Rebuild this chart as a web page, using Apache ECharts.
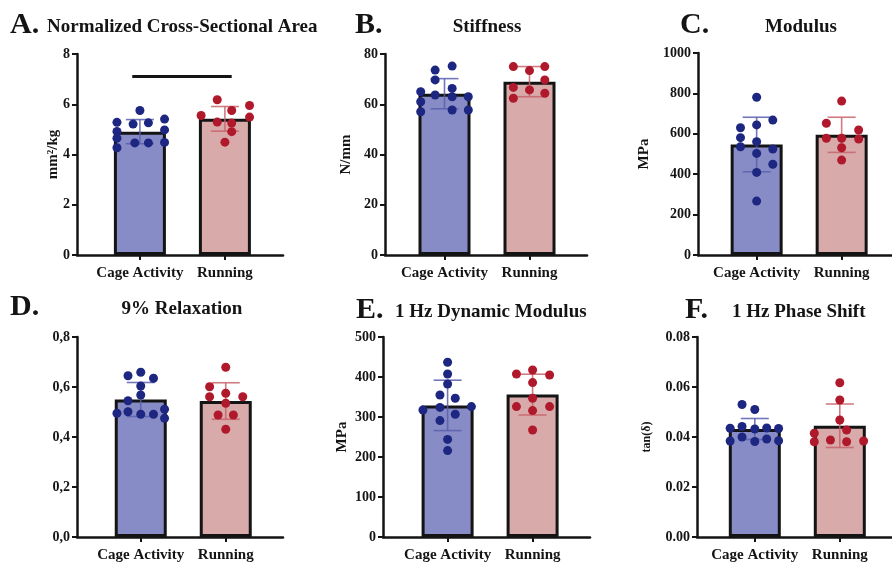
<!DOCTYPE html>
<html>
<head>
<meta charset="utf-8">
<script src="https://cdn.jsdelivr.net/npm/echarts@6/dist/echarts.min.js"></script>
<style>html,body{margin:0;padding:0;background:#fff}#c{width:892px;height:565px}</style>
</head>
<body>
<div id="c"></div>
<script>
// ---------- DATA ----------
const categories = ['Cage Activity', 'Running'];
const panelLetters = ['A.', 'B.', 'C.', 'D.', 'E.', 'F.'];
const panelTitles = ['Normalized Cross-Sectional Area', 'Stiffness', 'Modulus', '9% Relaxation', '1 Hz Dynamic Modulus', '1 Hz Phase Shift'];
const yNames = ['mm²/kg', 'N/mm', 'MPa', '', 'MPa', 'tan(δ)'];
const yMax = [8, 80, 1000, 0.8, 500, 0.08];
const yStep = [2, 20, 200, 0.2, 100, 0.02];
const yTickLabelsA = ['0', '2', '4', '6', '8'];
const yTickLabelsB = ['0', '20', '40', '60', '80'];
const yTickLabelsC = ['0', '200', '400', '600', '800', '1000'];
const yTickLabelsD = ['0,0', '0,2', '0,4', '0,6', '0,8'];
const yTickLabelsE = ['0', '100', '200', '300', '400', '500'];
const yTickLabelsF = ['0.00', '0.02', '0.04', '0.06', '0.08'];

const cageMean = [4.91, 64.2, 547, 0.55, 329, 0.0432];
const cageSD   = [0.48, 6.0, 135, 0.068, 63, 0.0042];
const runMean  = [5.42, 69.0, 595, 0.544, 356, 0.0445];
const runSD    = [0.49, 6.0, 87, 0.073, 51, 0.0087];

const cageA = [5.75, 5.28, 5.21, 5.26, 5.41, 4.92, 4.98, 4.65, 4.46, 4.46, 4.48, 4.27];
const runA  = [6.18, 5.95, 5.55, 5.75, 5.49, 5.29, 5.25, 4.91, 4.49];
const cageB = [73.6, 75.2, 69.7, 66.3, 65.0, 63.7, 63.0, 63.0, 61.0, 57.0, 57.7, 57.7];
const runB  = [75.0, 73.4, 75.0, 69.7, 66.7, 65.7, 64.4, 62.4];
const cageC = [781, 668, 630, 644, 581, 561, 536, 503, 525, 449, 409, 267];
const runC  = [762, 652, 619, 578, 578, 574, 531, 470];
const cageD = [0.645, 0.659, 0.635, 0.604, 0.568, 0.545, 0.495, 0.501, 0.491, 0.491, 0.511, 0.475];
const runD  = [0.679, 0.601, 0.561, 0.575, 0.561, 0.535, 0.488, 0.488, 0.431];
const cageE = [437, 407.5, 382.5, 355, 347, 317.5, 324, 326, 307, 291, 244, 216];
const runE  = [407.5, 417.5, 405, 386, 347, 326, 316, 326, 267.5];
const cageF = [0.053, 0.051, 0.0435, 0.0442, 0.0432, 0.0436, 0.0434, 0.0384, 0.0400, 0.0382, 0.0392, 0.0385];
const runF  = [0.0617, 0.0548, 0.0468, 0.0428, 0.0415, 0.0381, 0.0388, 0.0381, 0.0384];

// horizontal spread of the dots within each bar (fraction of group spacing)
const cageAJit = [0, -0.27, -0.08, 0.10, 0.29, -0.27, 0.29, -0.27, -0.06, 0.10, 0.29, -0.27];
const runAJit  = [-0.09, 0.29, -0.28, 0.08, 0.29, -0.09, 0.08, 0.08, 0];
const cageBJit = [-0.11, 0.09, -0.11, 0.09, -0.28, -0.11, 0.09, 0.28, -0.28, -0.28, 0.09, 0.28];
const runBJit  = [-0.19, 0, 0.18, 0.18, -0.19, 0, 0.18, -0.19];
const cageCJit = [0, 0.19, -0.19, 0, -0.19, 0, -0.19, 0, 0.19, 0.19, 0, 0];
const runCJit  = [0, -0.18, 0.2, -0.18, 0, 0.2, 0, 0];
const cageDJit = [-0.15, 0, 0.15, 0, 0, -0.15, -0.28, -0.15, 0, 0.15, 0.28, 0.28];
const runDJit  = [0, -0.19, -0.19, 0, 0.2, 0, -0.09, 0.09, 0];
const cageEJit = [0, 0, 0, -0.09, 0.09, -0.29, -0.09, 0.28, 0.09, -0.09, 0, 0];
const runEJit  = [-0.19, 0, 0.2, 0, 0, -0.19, 0, 0.2, 0];
const cageFJit = [-0.15, 0, -0.29, -0.15, 0, 0.14, 0.28, -0.29, -0.15, 0, 0.14, 0.28];
const runFJit  = [0, 0, 0, 0.08, -0.3, -0.3, -0.11, 0.08, 0.28];

// significance line in panel A (value level and group span)
const sigLevelA = 7.1;
const sigSpanA = [-0.09, 1.08];

// ---------- LAYOUT / STYLE ----------
const tickLabels = [yTickLabelsA, yTickLabelsB, yTickLabelsC, yTickLabelsD, yTickLabelsE, yTickLabelsF];
const cageDots = [cageA, cageB, cageC, cageD, cageE, cageF];
const runDots = [runA, runB, runC, runD, runE, runF];
const cageJit = [cageAJit, cageBJit, cageCJit, cageDJit, cageEJit, cageFJit];
const runJit = [runAJit, runBJit, runCJit, runDJit, runEJit, runFJit];

const grids = [
  {left: 77, top: 54, width: 206, height: 201, xmin: -0.74},
  {left: 385, top: 54, width: 202, height: 201, xmin: -0.70},
  {left: 698, top: 53, width: 194, height: 202, xmin: -0.69},
  {left: 77, top: 337, width: 206, height: 200, xmin: -0.75},
  {left: 383, top: 337, width: 207, height: 200, xmin: -0.76},
  {left: 697, top: 337, width: 195, height: 200, xmin: -0.68}
];
const pxPerGroup = 85;
const letterPos = [[10, 25], [355, 25], [680, 25], [10, 307], [356, 310], [685, 310]];
const titlePos = [[47, 27, 'left'], [487, 27, 'center'], [801, 27, 'center'], [182, 309, 'center'], [395, 312, 'left'], [732, 312, 'left']];
const yNameSize = [15, 15, 15, 15, 15, 12];
const yNameGap = [16, 31, 46, 0, 33, 44];

const FONT = '"Liberation Serif", "Times New Roman", serif';
const INK = '#141414';
const barFill = ['#878cc6', '#d8aaaa'];
const dotColor = ['#1d2680', '#b0192b'];
const errColor = ['#5a5fae', '#c8646c'];

const option = {
  backgroundColor: '#ffffff',
  animation: false,
  grid: [], xAxis: [], yAxis: [], series: [], graphic: []
};

for (let p = 0; p < 6; p++) {
  const g = grids[p];
  option.grid.push({left: g.left, top: g.top, width: g.width, height: g.height, containLabel: false});
  option.xAxis.push({
    type: 'value', gridIndex: p, min: g.xmin, max: g.xmin + g.width / pxPerGroup,
    splitLine: {show: false},
    axisLine: {show: true, onZero: false, lineStyle: {color: INK, width: 2.5}},
    axisTick: {show: true, customValues: [0, 1], length: 5, lineStyle: {color: INK, width: 2}},
    axisLabel: {show: true, customValues: [0, 1], margin: 11,
      formatter: v => categories[Math.round(v)] || '',
      fontFamily: FONT, fontWeight: 'bold', fontSize: 15, color: INK}
  });
  const labs = tickLabels[p];
  option.yAxis.push({
    type: 'value', gridIndex: p, min: 0, max: yMax[p], interval: yStep[p],
    name: yNames[p], nameLocation: 'middle', nameRotate: 90,
    nameGap: yNameGap[p], nameMoveOverlap: false,
    nameTextStyle: {fontFamily: FONT, fontWeight: 'bold', fontSize: yNameSize[p], color: INK},
    splitLine: {show: false},
    axisLine: {show: true, onZero: false, lineStyle: {color: INK, width: 2.5}},
    axisTick: {show: true, length: 5, lineStyle: {color: INK, width: 2}},
    axisLabel: {margin: 7, fontFamily: FONT, fontWeight: 'bold', fontSize: 14, color: INK,
      formatter: (v) => labs[Math.round(v / yStep[p])]}
  });

  // bars
  option.series.push({
    type: 'bar', xAxisIndex: p, yAxisIndex: p, barWidth: 52, z: 2,
    data: [
      {value: [0, cageMean[p]], itemStyle: {color: barFill[0]}},
      {value: [1, runMean[p]], itemStyle: {color: barFill[1]}}
    ],
    itemStyle: {borderColor: INK, borderWidth: 3}
  });

  // error bars (mean ± SD)
  option.series.push({
    type: 'custom', xAxisIndex: p, yAxisIndex: p, z: 3,
    data: [[0, cageMean[p], cageSD[p]], [1, runMean[p], runSD[p]]],
    renderItem: function (params, api) {
      const x = api.value(0), m = api.value(1), s = api.value(2);
      const top = api.coord([x, m + s]);
      const bot = api.coord([x, m - s]);
      const col = errColor[params.dataIndex];
      const w = 14;
      const st = {stroke: col, lineWidth: 1.6, opacity: 0.85};
      return {type: 'group', children: [
        {type: 'line', shape: {x1: top[0], y1: top[1], x2: bot[0], y2: bot[1]}, style: st},
        {type: 'line', shape: {x1: top[0] - w, y1: top[1], x2: top[0] + w, y2: top[1]}, style: st},
        {type: 'line', shape: {x1: bot[0] - w, y1: bot[1], x2: bot[0] + w, y2: bot[1]}, style: st}
      ]};
    }
  });

  // individual points
  option.series.push({
    type: 'scatter', xAxisIndex: p, yAxisIndex: p, z: 4, symbolSize: 9,
    itemStyle: {color: dotColor[0], opacity: 1},
    data: cageDots[p].map((v, i) => [0 + cageJit[p][i], v])
  });
  option.series.push({
    type: 'scatter', xAxisIndex: p, yAxisIndex: p, z: 4, symbolSize: 9,
    itemStyle: {color: dotColor[1], opacity: 1},
    data: runDots[p].map((v, i) => [1 + runJit[p][i], v])
  });

  // titles
  option.graphic.push({
    type: 'text', x: letterPos[p][0], y: letterPos[p][1],
    style: {text: panelLetters[p], fill: INK, font: 'bold 30px ' + FONT,
      textAlign: 'left', textVerticalAlign: 'middle', align: 'left', verticalAlign: 'middle'}
  });
  option.graphic.push({
    type: 'text', x: titlePos[p][0], y: titlePos[p][1],
    style: {text: panelTitles[p], fill: INK, font: 'bold 19px ' + FONT,
      textAlign: titlePos[p][2], textVerticalAlign: 'middle', align: titlePos[p][2], verticalAlign: 'middle'}
  });
}

// significance line, panel A
option.series.push({
  type: 'line', xAxisIndex: 0, yAxisIndex: 0, z: 5, symbol: 'none',
  lineStyle: {color: INK, width: 3},
  data: [[sigSpanA[0], sigLevelA], [sigSpanA[1], sigLevelA]]
});

const chart = echarts.init(document.getElementById('c'), null, {renderer: 'canvas'});
chart.setOption(option);
</script>
</body>
</html>
